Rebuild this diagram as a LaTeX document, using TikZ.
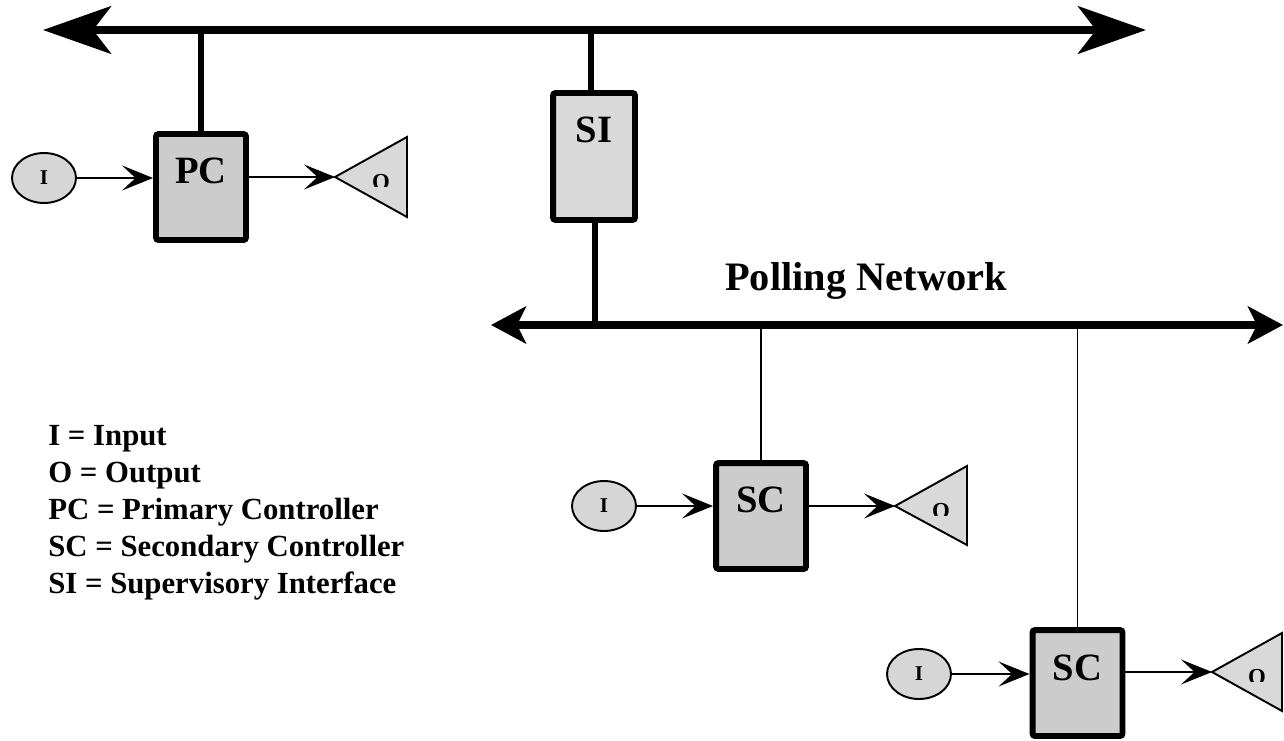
\documentclass[tikz,border=0pt]{standalone}
\usepackage{fontspec}
\setmainfont{Liberation Serif}
\usetikzlibrary{arrows.meta,shapes.geometric}

\definecolor{ctrlgray}{RGB}{204,204,204}
\definecolor{ifgray}{RGB}{217,217,217}
\definecolor{iogray}{RGB}{214,214,214}

\begin{document}
\begin{tikzpicture}[x=0.02cm,y=-0.02cm,
  bigbus/.style={line width=4.5pt,
    {Stealth[length=1.36cm,width=0.95cm,inset=0.36cm]}-{Stealth[length=1.36cm,width=0.95cm,inset=0.36cm]}},
  pollbus/.style={line width=4.5pt,
    {Stealth[length=0.7cm,width=0.74cm,inset=0.18cm]}-{Stealth[length=0.7cm,width=0.74cm,inset=0.18cm]}},
  tap/.style={line width=3.4pt},
  thintap/.style={line width=1.1pt},
  flow/.style={line width=1.2pt,-{Stealth[length=0.62cm,width=0.5cm,inset=0.27cm]}},
  ctrlbox/.style={draw,line width=3.4pt,rounded corners=1.5pt,fill=ctrlgray,
    inner sep=0pt,minimum width=1.8cm,minimum height=2.12cm},
  ifbox/.style={draw,line width=3.4pt,rounded corners=1.5pt,fill=ifgray,
    inner sep=0pt,minimum width=1.64cm,minimum height=2.54cm},
  boxlabel/.style={anchor=base,inner sep=0pt,font=\bfseries\fontsize{22}{26}\selectfont},
  inport/.style={ellipse,draw,line width=1.1pt,fill=iogray,inner sep=0pt,
    minimum width=1.28cm,minimum height=1.0cm,font=\bfseries\fontsize{12}{13}\selectfont},
  outport/.style={draw,line width=1.1pt,fill=ifgray,line join=miter},
  outlabel/.style={inner sep=0pt,font=\bfseries\fontsize{13}{15}\selectfont},
  legend/.style={anchor=base west,inner sep=0pt,font=\bfseries\fontsize{17.5}{21}\selectfont}
]
\useasboundingbox (0,0) rectangle (1284,740);

% --- bus end points ---
\coordinate (topL) at (43,30);
\coordinate (topR) at (1146,30);
\coordinate (pollL) at (491,325);
\coordinate (pollR) at (1283,325);

% --- controllers and interface ---
\node[ctrlbox] (pc)  at (201,187) {};
\node[ifbox]   (si)  at (594,156.5) {};
\node[ctrlbox] (sc1) at (761,516) {};
\node[ctrlbox] (sc2) at (1077.5,683) {};

% --- taps onto the buses ---
\draw[tap] (pc.north) -- (pc.north |- topL);
\draw[tap] ([xshift=-0.06cm]si.north) -- ([xshift=-0.06cm]si.north |- topL);
\draw[tap] ([xshift=0.02cm]si.south) -- ([xshift=0.02cm]si.south |- pollL);
\draw[thintap] (sc1.north) -- (sc1.north |- pollL);
\draw[thintap] (sc2.north) -- (sc2.north |- pollL);

% --- buses ---
\draw[bigbus] (topL) -- (topR);
\draw[pollbus] (pollL) -- (pollR);
\node[anchor=base,inner sep=0pt,font=\bfseries\fontsize{23}{28}\selectfont] (pollname) at (866,290) {Polling Network};

% --- box labels ---
\node[boxlabel] (pclab)  at (201,183) {PC};
\node[boxlabel] (silab)  at (594,142) {SI};
\node[boxlabel] (sc1lab) at (761,512) {SC};
\node[boxlabel] (sc2lab) at (1077.5,680) {SC};

% --- inputs ---
\node[inport] (i1) at (44,178) {I};
\node[inport] (i2) at (604,506) {I};
\node[inport] (i3) at (919,674) {I};

% --- outputs (triangles pointing at the controller) ---
\coordinate (t1) at (335,177);
\coordinate (t2) at (895,506);
\coordinate (t3) at (1212,672);
\draw[outport] (t1) -- (407,137) -- (407,217) -- cycle;
\draw[outport] (t2) -- (967,466) -- (967,545) -- cycle;
\draw[outport] (t3) -- (1282,633) -- (1282,711) -- cycle;
% output labels, lower edge hidden
\begin{scope}
  \clip (366,170) rectangle (396,186);
  \node[outlabel] (o1) at (381,182) {O};
\end{scope}
\begin{scope}
  \clip (926,499) rectangle (956,515);
  \node[outlabel] (o2) at (941,511) {O};
\end{scope}
\begin{scope}
  \clip (1242,665) rectangle (1272,681);
  \node[outlabel] (o3) at (1257,677) {O};
\end{scope}

% --- signal flow ---
\draw[flow] (i1.east) -- (i1.east -| pc.west);
\draw[flow] (pc.east |- t1) -- (t1);
\draw[flow] (i2.east) -- (i2.east -| sc1.west);
\draw[flow] (sc1.east |- t2) -- (t2);
\draw[flow] (i3.east) -- (i3.east -| sc2.west);
\draw[flow] (sc2.east |- t3) -- (t3);

% --- legend ---
\node[legend] (k1) at (48,445) {I = Input};
\node[legend] (k2) at (48,482) {O = Output};
\node[legend] (k3) at (48,519) {PC = Primary Controller};
\node[legend] (k4) at (48,556) {SC = Secondary Controller};
\node[legend] (k5) at (48,593) {SI = Supervisory Interface};
\end{tikzpicture}
\end{document}
